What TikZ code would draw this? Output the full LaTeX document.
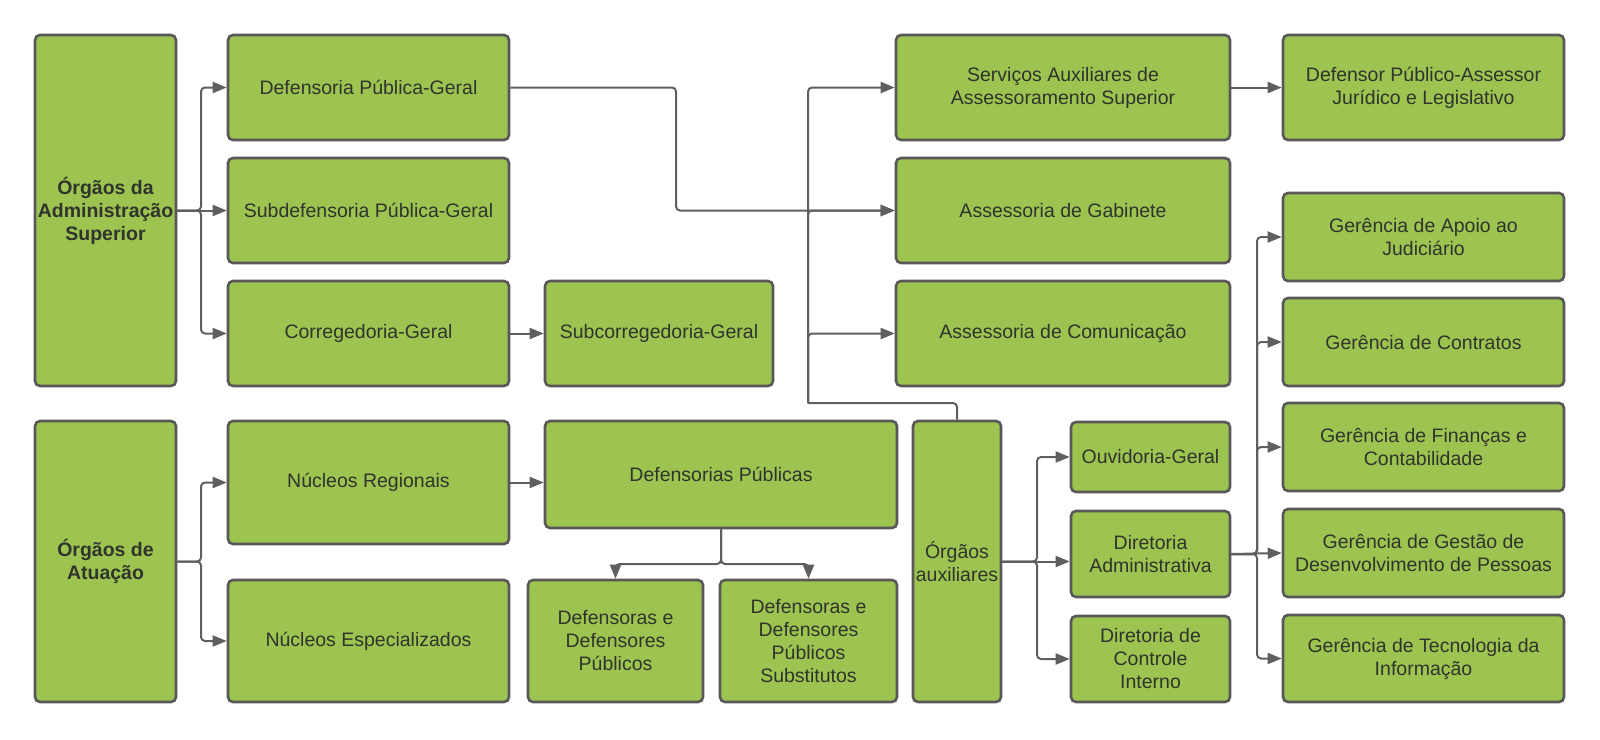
\documentclass[tikz,border=0pt]{standalone}
\usepackage{fontspec}
\setmainfont{Liberation Sans}
\usetikzlibrary{arrows.meta}

\definecolor{boxgreen}{RGB}{157,195,80}
\definecolor{boxline}{RGB}{88,88,88}
\definecolor{linegray}{RGB}{95,95,95}
\definecolor{textgray}{RGB}{48,52,44}

\tikzset{
  orgbox/.style={draw=boxline, fill=boxgreen, line width=2.6pt, rounded corners=5pt,
    inner sep=0pt, align=center, text=textgray, font=\fontsize{19.5}{23}\selectfont},
  orgbold/.style={orgbox, font=\fontsize{19.5}{23}\selectfont\bfseries},
  sz/.style 2 args={minimum width=#1pt, minimum height=#2pt},
  link/.style={draw=linegray, line width=2pt, rounded corners=4pt,
    -{Triangle[length=14pt,width=11pt]}},
  bus/.style={draw=linegray, line width=2pt, rounded corners=4pt},
}

\begin{document}
\begin{tikzpicture}[x=1pt, y=-1pt]
    \useasboundingbox (0,0) rectangle (1600,739);

    \node[orgbold, sz={141}{351}] (adm) at (105.5,210.5) {Órgãos da\\Administração\\Superior};
    \node[orgbold, sz={141}{281}] (atua) at (105.5,561.5) {Órgãos de\\Atuação};

    \node[orgbox, sz={281}{105}] (dpg) at (368.5,87.5) {Defensoria Pública-Geral};
    \node[orgbox, sz={281}{105}] (subdpg) at (368.5,210.5) {Subdefensoria Pública-Geral};
    \node[orgbox, sz={281}{105}] (correg) at (368.5,333.5) {Corregedoria-Geral};
    \node[orgbox, sz={228}{105}] (subcorreg) at (659,333.5) {Subcorregedoria-Geral};

    \node[orgbox, sz={281}{123}] (nucreg) at (368.5,482.5) {Núcleos Regionais};
    \node[orgbox, sz={281}{122}] (nucesp) at (368.5,641) {Núcleos Especializados};
    \node[orgbox, sz={352}{107}] (defpub) at (721,474.5) {Defensorias Públicas};
    \node[orgbox, sz={175}{122}] (defs) at (615.5,641) {Defensoras e\\Defensores\\Públicos};
    \node[orgbox, sz={177}{122}] (defsub) at (808.5,641) {Defensoras e\\Defensores\\Públicos\\Substitutos};

    \node[orgbox, sz={88}{281}] (aux) at (957,561.5) {Órgãos\\auxiliares};

    \node[orgbox, sz={334}{105}] (servaux) at (1063,87.5) {Serviços Auxiliares de\\Assessoramento Superior};
    \node[orgbox, sz={334}{105}] (gabinete) at (1063,210.5) {Assessoria de Gabinete};
    \node[orgbox, sz={334}{105}] (comunic) at (1063,333.5) {Assessoria de Comunicação};
    \node[orgbox, sz={281}{105}] (assessor) at (1423.5,87.5) {Defensor Público-Assessor\\Jurídico e Legislativo};

    \node[orgbox, sz={159}{70}] (ouvid) at (1150.5,457) {Ouvidoria-Geral};
    \node[orgbox, sz={159}{86}] (diradm) at (1150.5,554) {Diretoria\\Administrativa};
    \node[orgbox, sz={159}{86}] (dirci) at (1150.5,659) {Diretoria de\\Controle\\Interno};

    \node[orgbox, sz={281}{88}] (apoio) at (1423.5,237) {Gerência de Apoio ao\\Judiciário};
    \node[orgbox, sz={281}{88}] (contr) at (1423.5,342) {Gerência de Contratos};
    \node[orgbox, sz={281}{88}] (financ) at (1423.5,447) {Gerência de Finanças e\\Contabilidade};
    \node[orgbox, sz={281}{88}] (pessoas) at (1423.5,553) {Gerência de Gestão de\\Desenvolvimento de Pessoas};
    \node[orgbox, sz={281}{87}] (tecno) at (1423.5,658.5) {Gerência de Tecnologia da\\Informação};

    \coordinate (admbus) at (201,210.5);
    \coordinate (atuabus) at (201,561.5);
    \coordinate (dpgturn) at (676,87.5);
    \coordinate (auxturn) at (808,403);
    \coordinate (dpsplit) at (721,564);
    \coordinate (auxbus) at (1037,561.5);
    \coordinate (admbus2) at (1257,554);

    \draw[link] (adm.east) -- (subdpg.west);
    \draw[link] (adm.east) -- (admbus) |- (dpg.west);
    \draw[link] (adm.east) -- (admbus) |- (correg.west);
    \draw[link] (correg) -- (subcorreg);

    \draw[link] (atua.east) -- (atuabus) |- (nucreg.west);
    \draw[link] (atua.east) -- (atuabus) |- (nucesp.west);
    \draw[link] (nucreg.east) -- (nucreg.east -| defpub.west);
    \draw[link] (defpub.south) -- (dpsplit) -| (defs.north);
    \draw[link] (defpub.south) -- (dpsplit) -| (defsub.north);

    \draw[link] (dpg.east) -- (dpgturn) |- (gabinete.west);
    \draw[bus] (aux.north) |- (auxturn);
    \draw[link] (auxturn) |- (servaux.west);
    \draw[link] (auxturn) |- (comunic.west);
    \draw[link] (auxturn) |- (gabinete.west);
    \draw[link] (servaux) -- (assessor);

    \draw[link] (aux.east) -- (auxbus) |- (ouvid.west);
    \draw[link] (aux.east) -- (aux.east -| diradm.west);
    \draw[link] (aux.east) -- (auxbus) |- (dirci.west);

    \draw[link] (diradm.east) -- (admbus2) |- (apoio.west);
    \draw[link] (diradm.east) -- (admbus2) |- (contr.west);
    \draw[link] (diradm.east) -- (admbus2) |- (financ.west);
    \draw[link] (diradm.east) -- (pessoas.west);
    \draw[link] (diradm.east) -- (admbus2) |- (tecno.west);
\end{tikzpicture}
\end{document}
